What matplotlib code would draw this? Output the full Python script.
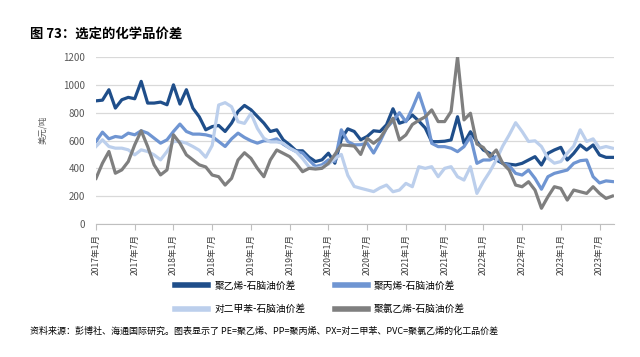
import numpy as np
import matplotlib
matplotlib.use("Agg")
import matplotlib.pyplot as plt

plt.rcParams['font.family'] = ['Noto Sans CJK SC', 'DejaVu Sans']

# 月度数据：2017年1月 - 2023年9月
years = list(range(2017, 2024))
tick_labels = [f"{y}年{m}月" for y in years for m in (1, 7)]

pe = [885, 890, 965, 833, 893, 910, 900, 1025, 869, 869,
      876, 857, 1000, 862, 965, 833, 770, 677, 700, 708,
      665, 725, 809, 852, 821, 773, 725, 665, 677, 605,
      569, 526, 526, 480, 449, 461, 509, 437, 610, 684,
      665, 605, 629, 670, 665, 713, 828, 724, 740, 783,
      740, 690, 592, 592, 595, 604, 771, 580, 663, 592,
      532, 508, 460, 436, 430, 424, 436, 460, 484, 424,
      508, 532, 551, 460, 508, 568, 532, 568, 496, 479,
      479]
pp = [593, 660, 612, 629, 622, 653, 641, 670, 653, 617,
      581, 605, 665, 718, 665, 646, 646, 641, 629, 593,
      557, 612, 653, 622, 598, 581, 598, 598, 612, 574,
      545, 521, 510, 460, 413, 425, 461, 450, 677, 593,
      569, 570, 581, 510, 593, 690, 740, 800, 735, 830,
      941, 800, 580, 556, 556, 545, 520, 556, 628, 436,
      460, 460, 484, 436, 420, 364, 352, 388, 328, 250,
      340, 364, 376, 388, 436, 455, 460, 340, 295, 310,
      305]
px = [557, 605, 557, 545, 545, 533, 497, 533, 521, 497,
      461, 521, 593, 593, 581, 557, 530, 480, 565, 855,
      872, 843, 735, 723, 795, 687, 616, 590, 590, 580,
      545, 520, 470, 410, 400, 410, 430, 470, 500, 350,
      270, 257, 245, 233, 260, 280, 232, 244, 292, 268,
      412, 400, 412, 340, 400, 412, 340, 316, 412, 220,
      304, 376, 460, 560, 640, 728, 665, 593, 598, 557,
      473, 437, 449, 509, 560, 677, 593, 612, 545, 557,
      545]
pvc = [328, 437, 521, 365, 389, 449, 569, 670, 557, 425,
       353, 389, 641, 581, 497, 461, 425, 410, 352, 340,
       280, 328, 460, 512, 472, 400, 340, 460, 532, 508,
       484, 436, 376, 400, 395, 400, 436, 500, 568, 565,
       560, 500, 616, 580, 616, 688, 760, 604, 640, 715,
       745, 770, 820, 736, 736, 808, 1200, 748, 796, 575,
       550, 484, 532, 436, 388, 280, 268, 304, 244, 113,
       196, 268, 256, 172, 244, 232, 220, 268, 220, 184,
       201]

x = np.arange(len(pe))

fig = plt.figure(figsize=(6.4, 3.57), dpi=100)
ax = fig.add_axes([0.15, 0.3725, 0.809, 0.4678])

l1, = ax.plot(x, pe, color='#1f4e8a', lw=2.3, label='聚乙烯-石脑油价差')
l2, = ax.plot(x, pp, color='#6f95d2', lw=2.3, label='聚丙烯-石脑油价差')
l3, = ax.plot(x, px, color='#bccfec', lw=2.3, label='对二甲苯-石脑油价差')
l4, = ax.plot(x, pvc, color='#7f7f7f', lw=2.3, label='聚氯乙烯-石脑油价差')

ax.set_ylim(0, 1200)
ax.set_xlim(0, 80.2)
ax.set_yticks(range(0, 1201, 200))
ax.yaxis.grid(True, color='#d9d9d9', lw=0.9)
ax.set_axisbelow(True)
for s in ['top', 'right', 'left']:
    ax.spines[s].set_visible(False)
ax.spines['bottom'].set_color('#bfbfbf')
ax.tick_params(axis='y', length=0, labelsize=7, labelcolor='#595959', pad=8)
ax.set_xticks(range(0, 79, 6))
ax.set_xticklabels(tick_labels, rotation=90, fontsize=6.2, color='#404040')
ax.tick_params(axis='x', length=4, color='#bfbfbf', pad=3)

fig.text(0.067, 0.635, '美元/吨', rotation=90, fontsize=6, color='#595959',
         ha='center', va='center')

fig.text(0.047, 0.905, '图 73：选定的化学品价差', fontsize=9.6, fontweight='bold',
         va='center', ha='left')

handles = [l1, l3, l2, l4]
leg = fig.legend(handles, [h.get_label() for h in handles],
                 loc='upper left', bbox_to_anchor=(0.268, 0.225), ncol=2,
                 frameon=False, handlelength=3.4, handletextpad=0.6,
                 columnspacing=3.0, labelspacing=1.4, borderaxespad=0,
                 prop={'size': 7})
for h in leg.legend_handles:
    h.set_linewidth(4)

fig.text(0.047, 0.073, '资料来源：彭博社、海通国际研究。图表显示了 PE=聚乙烯、PP=聚丙烯、PX=对二甲苯、PVC=聚氯乙烯的化工品价差',
         fontsize=6.5, va='center', ha='left')

fig.savefig('out.png', dpi=100)
